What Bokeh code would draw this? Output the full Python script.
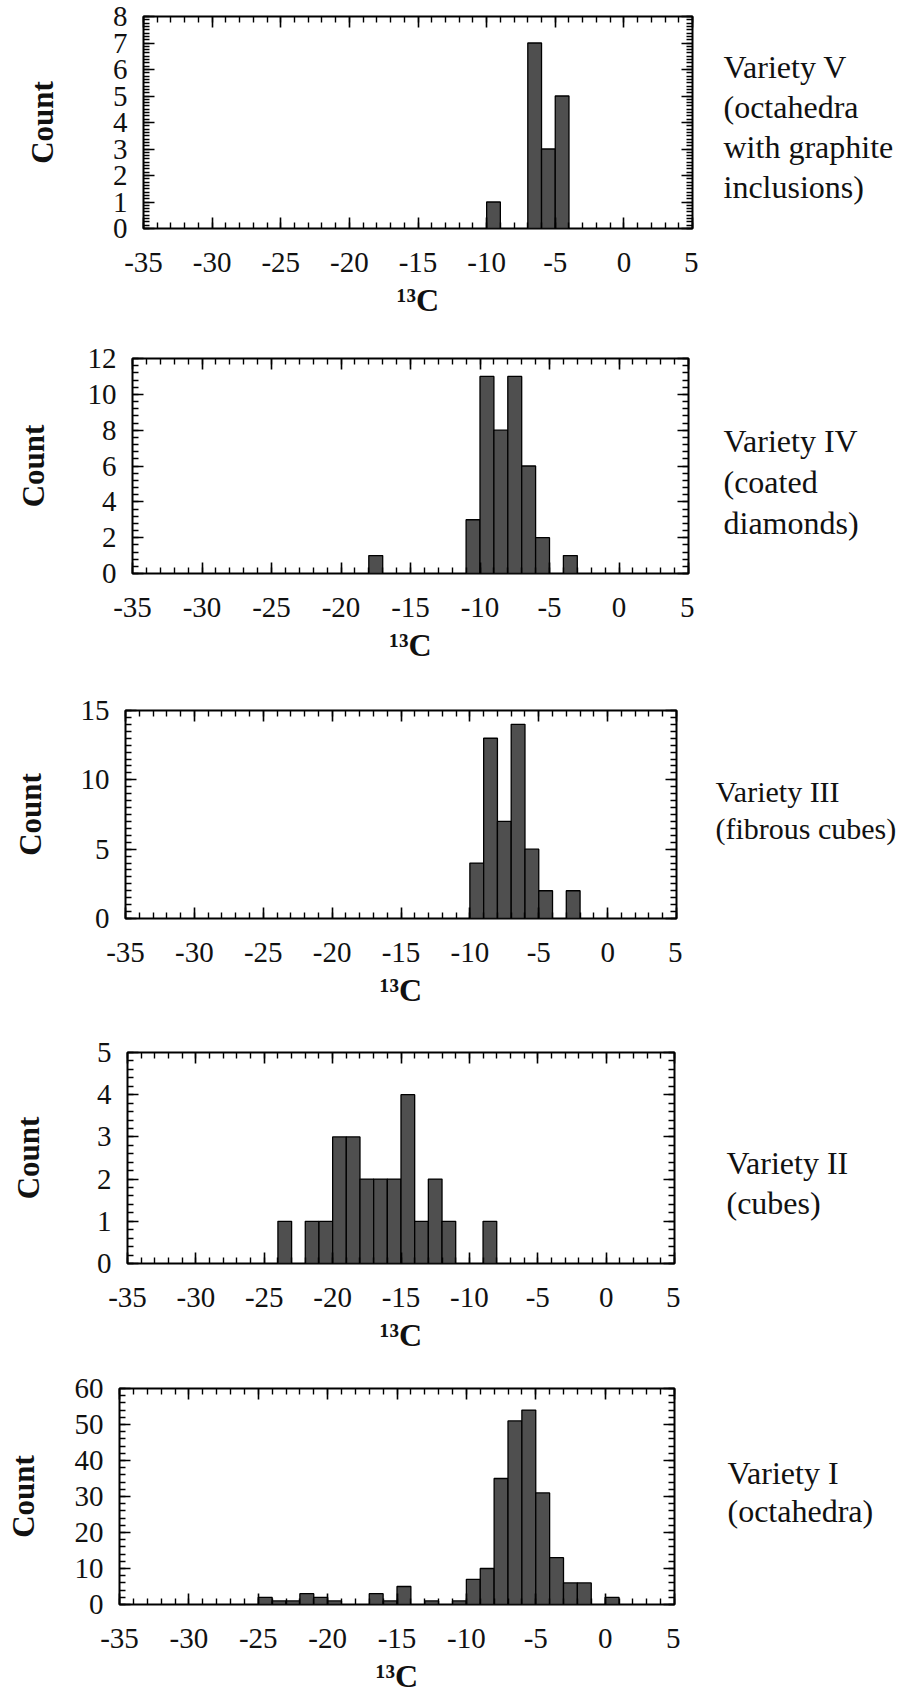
import numpy as np
from bokeh.plotting import figure
from bokeh.layouts import column, row
from bokeh.models import Range1d, FixedTicker, LinearAxis, Label
from bokeh.embed import file_html
from bokeh.resources import INLINE

# delta 13C histograms, 1-permil bins (left edge of each bin, count)
v5_bins = [-10, -7, -6, -5]
v5_counts = [1, 7, 3, 5]

v4_bins = [-18, -11, -10, -9, -8, -7, -6, -4]
v4_counts = [1, 3, 11, 8, 11, 6, 2, 1]

v3_bins = [-10, -9, -8, -7, -6, -5, -3]
v3_counts = [4, 13, 7, 14, 5, 2, 2]

v2_bins = [-24, -22, -21, -20, -19, -18, -17, -16, -15, -14, -13, -12, -9]
v2_counts = [1, 1, 1, 3, 3, 2, 2, 2, 4, 1, 2, 1, 1]

v1_bins = [-25, -24, -23, -22, -21, -20, -17, -16, -15, -13, -11, -10, -9,
           -8, -7, -6, -5, -4, -3, -2, 0]
v1_counts = [2, 1, 1, 3, 2, 1, 3, 1, 5, 1, 1, 7, 10,
             35, 51, 54, 31, 13, 6, 6, 2]

x_ticks = [-35, -30, -25, -20, -15, -10, -5, 0, 5]
x_label = "\u00b9\u00b3C"
y_label = "Count"

v5_text = ["Variety V", "(octahedra", "with graphite", "inclusions)"]
v4_text = ["Variety IV", "(coated", "diamonds)"]
v3_text = ["Variety III", "(fibrous cubes)"]
v2_text = ["Variety II", "(cubes)"]
v1_text = ["Variety I", "(octahedra)"]

SERIF = "Liberation Serif"
INK = "#111111"
W = 899
RB = 6  # strip kept right of each frame for the right-hand tick axis


def style_axis(ax, show):
    ax.axis_line_color = None
    ax.major_tick_in = 11
    ax.major_tick_out = 0
    ax.minor_tick_in = 6
    ax.minor_tick_out = 0
    ax.major_tick_line_width = 1.6
    ax.minor_tick_line_width = 1.4
    ax.major_tick_line_color = "black"
    ax.minor_tick_line_color = "black"
    if show:
        ax.major_label_text_font = SERIF
        ax.major_label_text_font_size = "29px"
        ax.major_label_text_color = INK
    else:
        ax.major_label_text_color = None
        ax.major_label_standoff = 0


def panel(bins, counts, ymax, ystep, yminor, text, height, left, right, top,
          bottom, count_standoff, text_x, text_y, text_gap, text_size):
    main_w = right + RB
    p = figure(width=main_w, height=height, x_range=Range1d(-35, 5),
               y_range=Range1d(0, ymax), output_backend="svg",
               toolbar_location=None, min_border_left=left,
               min_border_right=RB, min_border_top=top,
               min_border_bottom=bottom, x_axis_type=None, y_axis_type=None)
    p.background_fill_color = "white"
    p.border_fill_color = "white"
    p.outline_line_color = "black"
    p.outline_line_width = 2

    xt = FixedTicker(ticks=x_ticks,
                     minor_ticks=list(np.arange(-35, 5.01, 1.0)))
    yt = FixedTicker(ticks=list(np.arange(0, ymax + 0.001, ystep)),
                     minor_ticks=list(np.arange(0, ymax + 0.001, yminor)))

    xb = LinearAxis(ticker=xt, axis_label=x_label)
    style_axis(xb, True)
    xb.major_label_overrides = {t: str(t) for t in x_ticks}
    xb.major_label_standoff = 24
    xb.axis_label_standoff = 7
    xb.axis_label_text_font = SERIF
    xb.axis_label_text_font_style = "bold"
    xb.axis_label_text_font_size = "32px"
    xb.axis_label_text_color = INK
    p.add_layout(xb, "below")

    xa = LinearAxis(ticker=xt)
    style_axis(xa, False)
    p.add_layout(xa, "above")

    yl = LinearAxis(ticker=yt, axis_label=y_label)
    style_axis(yl, True)
    yl.major_label_standoff = 16
    yl.axis_label_standoff = count_standoff
    yl.axis_label_text_font = SERIF
    yl.axis_label_text_font_style = "bold"
    yl.axis_label_text_font_size = "31px"
    yl.axis_label_text_color = INK
    p.add_layout(yl, "left")

    yr = LinearAxis(ticker=yt)
    style_axis(yr, False)
    p.add_layout(yr, "right")

    p.xgrid.ticker = xt
    p.ygrid.ticker = yt
    for g in (p.xgrid, p.ygrid):
        g.grid_line_color = "black"
        g.grid_line_dash = "2 3"
        g.grid_line_width = 1.3

    edges = np.array(bins, dtype=float)
    p.quad(left=edges, right=edges + 1, bottom=0, top=counts,
           fill_color="#4f4f4f", line_color="black", line_width=1.3)

    # caption column right of the frame; its frame shares the plot's top
    # and bottom borders, so its ranges are given in the slice's pixels
    side_w = W - main_w
    s = figure(width=side_w, height=height, x_range=Range1d(0, side_w),
               y_range=Range1d(height - bottom, top), output_backend="svg",
               toolbar_location=None, min_border_left=0, min_border_right=0,
               min_border_top=top, min_border_bottom=bottom,
               x_axis_type=None, y_axis_type=None)
    s.outline_line_color = None
    s.background_fill_color = "white"
    s.border_fill_color = "white"
    s.xgrid.visible = False
    s.ygrid.visible = False
    for i, line in enumerate(text):
        s.add_layout(Label(x=text_x - main_w, y=text_y + i * text_gap,
                           text=line, text_font=SERIF,
                           text_font_size=text_size, text_color=INK,
                           text_baseline="middle", text_align="left"))
    return row(p, s, spacing=0)


# panel slices (heights 330 + 350 + 330 + 360 + 329 = 1699)
p1 = panel(v5_bins, v5_counts, 8, 1, 0.125, v5_text, 330,
           143, 692, 16, 102, 50, 723, 66, 40, "32px")
p2 = panel(v4_bins, v4_counts, 12, 2, 0.4, v4_text, 350,
           132, 688, 28, 107, 34, 723, 110, 41, "32px")
p3 = panel(v3_bins, v3_counts, 15, 5, 0.5, v3_text, 330,
           125, 676, 30, 87, 30, 715, 113, 38, "30px")
p4 = panel(v2_bins, v2_counts, 5, 1, 0.2, v2_text, 360,
           127, 674, 42, 107, 48, 726, 152, 40, "32px")
p5 = panel(v1_bins, v1_counts, 60, 10, 2, v1_text, 329,
           119, 674, 18, 95, 31, 727, 102, 38, "32px")

layout = column(p1, p2, p3, p4, p5, spacing=0)
open("out.html", "w").write(file_html(layout, INLINE))
